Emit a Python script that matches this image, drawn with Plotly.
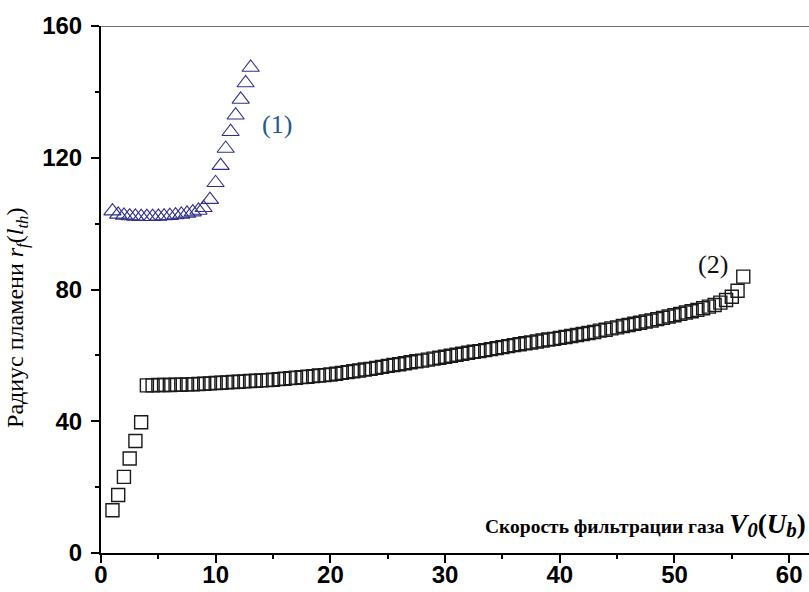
import plotly.graph_objects as go

# Series (1): triangles
tri_x = [1.0, 1.5, 2.0, 2.5, 3.0, 3.5, 4.0, 4.5, 5.0, 5.5, 6.0, 6.5, 7.0, 7.5, 8.0, 8.5,
         8.95, 9.5, 9.99, 10.43, 10.87, 11.3, 11.74, 12.18, 12.61, 13.05]
tri_y = [103.8, 102.8, 102.5, 102.3, 102.2, 102.1, 102.1, 102.1, 102.2, 102.3, 102.4, 102.6,
         102.8, 103.1, 103.5, 104.0,
         104.8, 107.3, 112.4, 117.6, 122.8, 127.9, 132.9, 137.7, 142.7, 147.4]

# Series (2): squares
sq_x = [1.0 + 0.5 * i for i in range(111)]
sq_y = [13.0, 17.6, 23.1, 28.7, 34.0, 39.7,
        50.9, 50.9, 51.0, 51.0, 51.0, 51.1, 51.1, 51.2, 51.2, 51.3, 51.4, 51.5,
        51.6, 51.7, 51.8, 51.9, 52.0, 52.1, 52.2, 52.3, 52.4, 52.5,
        52.6, 52.8, 52.9, 53.1, 53.2, 53.4, 53.5, 53.7, 53.9, 54.0,
        54.2, 54.4, 54.7, 54.9, 55.2, 55.4, 55.7, 55.9, 56.2, 56.5,
        56.8, 57.1, 57.3, 57.6, 57.9, 58.2, 58.4, 58.7, 59.0, 59.3,
        59.6, 59.9, 60.2, 60.5, 60.8, 61.1, 61.3, 61.6, 61.9, 62.2,
        62.5, 62.8, 63.1, 63.4, 63.7, 63.9, 64.2, 64.5, 64.8, 65.0,
        65.3, 65.6, 65.9, 66.2, 66.5, 66.8, 67.1, 67.5, 67.8, 68.2,
        68.5, 68.9, 69.2, 69.6, 69.9, 70.3, 70.6, 71.0, 71.4, 71.8,
        72.2, 72.6, 73.0, 73.4, 73.8, 74.3, 74.8, 75.3, 76.0, 76.8,
        77.8, 79.6, 83.9]

x_ticks = [0, 10, 20, 30, 40, 50, 60]
y_ticks = [0, 40, 80, 120, 160]
x_range = [0, 61.73]
y_range = [0, 160]

fig = go.Figure()
fig.add_trace(go.Scatter(
    x=sq_x, y=sq_y, mode="markers",
    marker=dict(symbol="square-open", size=13, color="#1a1a1a", line=dict(width=1.4, color="#1a1a1a")),
    showlegend=False, cliponaxis=False))
fig.add_trace(go.Scatter(
    x=tri_x, y=tri_y, mode="markers",
    marker=dict(symbol="triangle-up-open", size=15, color="#30308a", line=dict(width=1.1, color="#30308a")),
    showlegend=False, cliponaxis=False))
# empty trace so the label-only overlay axis is created
fig.add_trace(go.Scatter(x=[], y=[], xaxis="x2", yaxis="y", showlegend=False, hoverinfo="skip"))

fig.add_shape(type="line", xref="paper", yref="y", x0=0, x1=1, y0=160, y1=160,
              line=dict(color="#444444", width=1.5))

fig.add_annotation(x=13.9, y=130, xref="x", yref="y", text="(1)", showarrow=False,
                   xanchor="left", font=dict(family="Liberation Serif", size=26, color="#1f5a8c"))
fig.add_annotation(x=54.8, y=87.6, xref="x", yref="y", text="(2)", showarrow=False,
                   xanchor="right", font=dict(family="Liberation Serif", size=26, color="#111111"))

fig.add_annotation(x=1, y=8.4, xref="paper", yref="y", xshift=-1,
                   text=("<b>Скорость фильтрации газа "
                         "<i><span style='font-size:27px'>V</span></i><sub><i><span style='font-size:21px'>0</span></i></sub>"
                         "<span style='font-size:27px'>(</span>"
                         "<i><span style='font-size:27px'>U</span></i><sub><i><span style='font-size:21px'>b</span></i></sub>"
                         "<span style='font-size:27px'>)</span></b>"),
                   showarrow=False, xanchor="right", yanchor="middle",
                   font=dict(family="Liberation Serif", size=19.5, color="#000000"))
fig.add_annotation(x=0, y=0.446, xref="paper", yref="paper", xshift=-84,
                   text="Радиус пламени <i>r<sub>f</sub></i>(<i>l<sub>th</sub></i>)",
                   showarrow=False, textangle=-90, xanchor="center", yanchor="middle",
                   font=dict(family="Liberation Serif", size=24, color="#000000"))

tick_font = dict(family="Liberation Sans", size=24, color="#000000", weight="bold")

fig.update_layout(
    width=809, height=592, margin=dict(l=101, r=0, t=26, b=39),
    plot_bgcolor="white", paper_bgcolor="white",
    xaxis=dict(range=x_range, tickvals=x_ticks, showticklabels=False,
               showgrid=False, zeroline=False, showline=True, linecolor="#000000", linewidth=2,
               ticks="outside", ticklen=8, tickwidth=2, tickcolor="#000000", automargin=False,
               minor=dict(dtick=5, tick0=0, ticks="outside", ticklen=4, tickwidth=1.5, tickcolor="#000000")),
    xaxis2=dict(range=x_range, overlaying="x", anchor="y", side="bottom",
                tickvals=x_ticks, ticktext=[str(v) for v in x_ticks],
                showgrid=False, zeroline=False, showline=False, ticks="", ticklabelstandoff=5,
                automargin=False, tickfont=tick_font),
    yaxis=dict(range=y_range, tickvals=y_ticks, ticktext=[str(v) for v in y_ticks],
               showgrid=False, zeroline=False, showline=True, linecolor="#000000", linewidth=2,
               ticks="outside", ticklen=8, tickwidth=2, tickcolor="#000000", ticklabelstandoff=4,
               automargin=False,
               minor=dict(dtick=20, tick0=0, ticks="outside", ticklen=4, tickwidth=1.5, tickcolor="#000000"),
               tickfont=tick_font),
)

fig.write_html("out.html", config={"displayModeBar": False},
               post_script="document.body.style.margin='0';document.body.style.overflow='hidden';")
